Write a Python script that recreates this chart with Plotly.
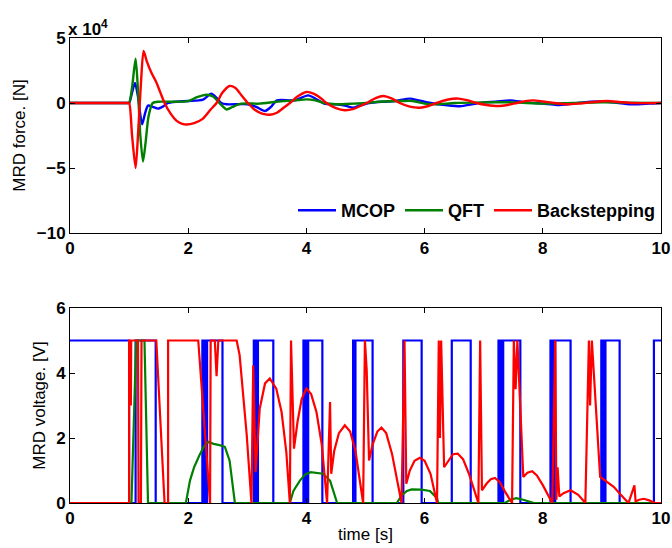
import plotly.graph_objects as go

# ---------------- data ----------------
# Top panel: MRD force, in units of 1e4 N
t_mcop_f = [0, 0.9, 0.97, 1.0, 1.05, 1.1, 1.15, 1.22, 1.27, 1.32, 1.4, 1.49, 1.58, 1.66, 1.8, 2.0, 2.25, 2.39, 2.48, 2.56,
            2.65, 3.0, 3.15, 3.30, 3.4, 3.5, 3.8, 4.03, 4.15, 4.3, 4.5, 4.65, 4.79, 4.9, 5.06, 5.3, 5.5, 5.75,
            5.9, 6.1, 6.35, 6.6, 6.8, 7.0, 7.2, 7.45, 7.7, 8.0, 8.24, 8.5, 8.8, 9.1, 9.5, 9.8, 10]
f_mcop = [0, 0, 0, 0, 0.8, 1.55, 0.5, -1.64, -0.8, -0.2, -0.3, -0.43, -0.25, 0, 0.1, 0.15, 0.26, 0.72, 0.4, 0,
          -0.1, -0.1, -0.3, -0.61, -0.3, 0.2, 0.2, 0.59, 0.35, -0.05, -0.1, -0.2, -0.36, -0.2, 0, 0.1, 0.15, 0.34,
          0.2, 0, -0.15, -0.25, -0.1, 0.05, 0.1, 0.2, 0.05, -0.05, -0.15, -0.05, 0.1, 0.1, -0.1, -0.05, 0]

t_qft_f = [0, 0.9, 0.97, 1.0, 1.05, 1.11, 1.15, 1.19, 1.235, 1.28, 1.33, 1.40, 1.5, 1.7, 2.0, 2.15, 2.31, 2.42, 2.55,
           2.65, 2.75, 2.9, 3.2, 3.5, 3.8, 4.0, 4.15, 4.3, 4.5, 4.8, 5.0, 5.3, 5.6, 5.8, 6.0, 6.2, 6.5, 7.0,
           7.5, 8.0, 8.5, 9.0, 10]
f_qft = [0, 0, 0, 0, 1.2, 3.4, 1.0, -2.5, -4.5, -3.0, -1.0, 0, 0.1, 0.1, 0.15, 0.45, 0.64, 0.5, -0.1,
         -0.5, -0.3, -0.05, -0.05, 0.1, 0.2, 0.28, 0.2, 0, -0.1, -0.05, 0, 0.12, 0.15, 0.15, -0.05, -0.1, 0, 0.05,
         0.05, -0.05, 0, 0.05, 0]

t_bs_f = [0, 0.9, 0.97, 1.0, 1.05, 1.11, 1.15, 1.2, 1.245, 1.3, 1.38, 1.46, 1.53, 1.6, 1.7, 1.8, 1.9, 1.97, 2.1, 2.25,
          2.38, 2.48, 2.58, 2.7, 2.8, 2.9, 3.01, 3.12, 3.25, 3.38, 3.5, 3.62, 3.72, 3.85, 4.0, 4.12, 4.25, 4.34,
          4.5, 4.65, 4.8, 4.95, 5.06, 5.18, 5.3, 5.44, 5.58, 5.75, 5.92, 6.05, 6.2, 6.38, 6.57, 6.72, 6.88,
          7.05, 7.25, 7.4, 7.56, 7.7, 7.84, 8.0, 8.2, 8.41, 8.6, 8.8, 9.09, 9.3, 9.5, 10]
f_bs = [0, 0, 0, 0, -2.5, -5.0, -2.5, 1.5, 4.0, 3.2, 2.3, 1.6, 0.8, 0, -0.8, -1.35, -1.6, -1.65, -1.55, -1.2,
        -0.5, 0, 0.8, 1.31, 1.15, 0.6, 0, -0.5, -0.82, -0.9, -0.75, -0.35, 0, 0.5, 0.85, 0.72, 0.35, 0,
        -0.4, -0.56, -0.45, -0.15, 0.1, 0.4, 0.54, 0.35, 0, -0.28, -0.36, -0.25, 0, 0.25, 0.34, 0.22, 0,
        -0.15, -0.23, -0.15, 0, 0.14, 0.2, 0.12, 0, -0.1, -0.05, 0.05, 0.15, 0.08, 0, 0]

# Bottom panel: MRD voltage [V]
t_mcop_v = [0, 1.0, 1.11, 1.45, 2.24, 2.26, 2.28, 2.30, 2.32, 2.58, 3.11, 3.13, 3.15, 3.16, 3.18, 3.44,
            3.95, 3.97, 3.99, 4.01, 4.03, 4.27, 4.79, 4.81, 4.83, 5.12, 5.64, 5.95, 6.46, 6.78, 7.25, 7.27,
            7.29, 7.31, 7.33, 7.62, 8.13, 8.15, 8.17, 8.19, 8.21, 8.47, 8.99, 9.01, 9.03, 9.05, 9.06, 9.30,
            9.88, 10]
v_mcop = [5, 0, 5, 0, 5, 0, 5, 0, 5, 0, 5, 0, 5, 0, 5, 0,
          5, 0, 5, 0, 5, 0, 5, 0, 5, 0, 5, 0, 5, 0, 5, 0,
          5, 0, 5, 0, 5, 0, 5, 0, 5, 0, 5, 0, 5, 0, 5, 0,
          5, 5]

t_qft_v = [0, 1.04, 1.12, 1.26, 1.32, 1.96, 2.03, 2.1, 2.19, 2.27, 2.34, 2.43, 2.53, 2.62, 2.70, 2.79,
           3.72, 3.78, 3.89, 3.98, 4.07, 4.18, 4.28, 4.40, 4.52, 5.53, 5.61, 5.7, 5.78, 5.95, 6.09, 6.21,
           6.23, 7.36, 7.45, 7.55, 7.67, 7.85, 10]
v_qft = [0, 0, 5, 5, 0, 0, 0.69, 1.1, 1.47, 1.75, 1.88, 1.82, 1.78, 1.73, 1.31, 0,
         0, 0.37, 0.69, 0.88, 0.95, 0.93, 0.9, 0.69, 0, 0, 0.23, 0.37, 0.42, 0.41, 0.37, 0.15,
         0, 0, 0.1, 0.15, 0.1, 0, 0]

t_bs_v = [0, 1.0, 1.0, 1.03, 1.03, 1.035, 1.15, 1.16, 1.20, 1.21, 1.46, 1.60, 1.66, 1.66, 2.17, 2.37,
          2.38, 2.45, 2.48, 2.51, 2.82, 2.87, 2.99, 3.07, 3.10, 3.14, 3.21, 3.30, 3.38, 3.49, 3.58, 3.66,
          3.72, 3.74, 3.79, 3.85, 3.92, 4.0, 4.08, 4.17, 4.26, 4.35, 4.40, 4.42, 4.47, 4.55, 4.65, 4.74,
          4.83, 4.96, 4.99, 5.02, 5.06, 5.12, 5.2, 5.27, 5.35, 5.45, 5.61, 5.66, 5.69, 5.75, 5.83, 5.92,
          6.0, 6.1, 6.21, 6.24, 6.26, 6.28, 6.33, 6.40, 6.48, 6.56, 6.65, 6.75, 6.91, 6.94, 6.97, 7.05,
          7.12, 7.19, 7.27, 7.36, 7.48, 7.51, 7.54, 7.57, 7.67, 7.74, 7.82, 7.9, 8.0, 8.16, 8.21, 8.23,
          8.25, 8.28, 8.35, 8.47, 8.6, 8.72, 8.78, 8.80, 8.83, 8.97, 9.03, 9.09, 9.2, 9.32, 9.45, 9.55,
          9.57, 9.63, 9.71, 9.8, 9.9, 10]
v_bs = [0, 0, 5, 5, 3.0, 5, 5, 0, 0, 5, 5, 0, 0, 5, 5, 0,
        5, 5, 3.9, 5, 5, 4.55, 2.1, 0, 4.24, 0.95, 2.9, 3.68, 3.83, 3.52, 2.8, 1.57,
        0, 5, 1.67, 2.5, 3.2, 3.52, 3.35, 2.8, 1.8, 0, 3.11, 0.9, 1.6, 2.15, 2.39, 2.2,
        1.6, 0, 5, 4.1, 1.31, 1.8, 2.2, 2.32, 2.15, 1.5, 0, 5, 0.59, 1.0, 1.3, 1.39,
        1.3, 0.9, 0, 5, 2.0, 5, 1.1, 1.3, 1.5, 1.52, 1.35, 0.9, 0, 5, 0.39, 0.6,
        0.73, 0.77, 0.65, 0.35, 0, 5, 3.5, 5, 0.8, 0.93, 0.98, 0.85, 0.55, 0, 5, 0.1,
        1.1, 0.2, 0.3, 0.39, 0.25, 0, 5, 3.0, 5, 0.8, 0.72, 0.66, 0.5, 0.25, 0, 0.54,
        0.05, 0.1, 0.13, 0.08, 0, 0]

x_ticks = [0, 2, 4, 6, 8, 10]
f_tickvals = [5e4, 0, -5e4, -1e5]
f_ticktext = ["5", "0", "\u22125", "\u221210"]
v_ticks = [0, 2, 4, 6]

BLUE, GREEN, RED = "#0000FF", "#008000", "#FF0000"
FONT = "Liberation Sans, Arial, Helvetica, sans-serif"

fig = go.Figure()
scale = 1e4
fig.add_trace(go.Scatter(x=t_mcop_f, y=[v * scale for v in f_mcop], mode="lines", name="MCOP",
                         line=dict(color=BLUE, width=2.4, shape="spline", smoothing=0.7), xaxis="x", yaxis="y"))
fig.add_trace(go.Scatter(x=t_qft_f, y=[v * scale for v in f_qft], mode="lines", name="QFT",
                         line=dict(color=GREEN, width=2.4, shape="spline", smoothing=0.7), xaxis="x", yaxis="y"))
fig.add_trace(go.Scatter(x=t_bs_f, y=[v * scale for v in f_bs], mode="lines", name="Backstepping",
                         line=dict(color=RED, width=2.4, shape="spline", smoothing=0.7), xaxis="x", yaxis="y"))

fig.add_trace(go.Scatter(x=t_mcop_v, y=v_mcop, mode="lines", showlegend=False,
                         line=dict(color=BLUE, width=2.2, shape="hv"), xaxis="x2", yaxis="y2"))
fig.add_trace(go.Scatter(x=t_qft_v, y=v_qft, mode="lines", showlegend=False,
                         line=dict(color=GREEN, width=2.2), xaxis="x2", yaxis="y2"))
fig.add_trace(go.Scatter(x=t_bs_v, y=v_bs, mode="lines", showlegend=False,
                         line=dict(color=RED, width=2.2), xaxis="x2", yaxis="y2"))

axis_common = dict(showline=True, linecolor="black", linewidth=1, mirror="ticks", ticks="inside",
                   ticklen=5, tickcolor="black", showgrid=False, zeroline=False, automargin=False,
                   tickfont=dict(family=FONT, size=17, color="black", weight="bold"))

# body margin is removed in the page (post_script), so the figure fills the window exactly
W, H = 672, 548
ML, MR, MT, MB = 70, 11, 38, 45
h_total = H - MT - MB
top_bot_px, bot_top_px, bot_px = 233, 308, 503
top_lo = (bot_px - top_bot_px) / h_total
bot_hi = (bot_px - bot_top_px) / h_total

TITLE_FONT = dict(family=FONT, size=17, color="black")

fig.update_layout(
    width=W, height=H,
    margin=dict(l=ML, r=MR, t=MT, b=MB),
    paper_bgcolor="white", plot_bgcolor="white",
    font=dict(family=FONT, color="black"),
    xaxis=dict(domain=[0, 1], range=[0, 10], tickvals=x_ticks, anchor="y", **axis_common),
    yaxis=dict(domain=[top_lo, 1], range=[-1e5, 5e4], tickvals=f_tickvals, ticktext=f_ticktext,
               anchor="x", title=dict(text="MRD force. [N]", font=TITLE_FONT, standoff=6),
               **axis_common),
    xaxis2=dict(domain=[0, 1], range=[0, 10], tickvals=x_ticks, anchor="y2",
                title=dict(text="time [s]", font=TITLE_FONT, standoff=0), **axis_common),
    yaxis2=dict(domain=[0, bot_hi], range=[0, 6], tickvals=v_ticks, anchor="x2",
                title=dict(text="MRD voltage. [V]", font=TITLE_FONT, standoff=6),
                **axis_common),
    legend=dict(orientation="h", x=1, xanchor="right", y=(bot_px - 229) / h_total, yanchor="bottom",
                bgcolor="rgba(0,0,0,0)", itemwidth=38, traceorder="normal", tracegroupgap=0,
                font=dict(family=FONT, size=18, color="black", weight="bold")),
    showlegend=True,
)

fig.add_annotation(text="x 10<sup>4</sup>", xref="paper", yref="paper", x=-0.007, y=1.0,
                   xanchor="left", yanchor="bottom", showarrow=False, yshift=-3,
                   font=dict(family=FONT, size=17, color="black", weight="bold"))

fig.write_html("out.html", config={"displayModeBar": False},
               post_script="document.body.style.margin='0';document.body.style.overflow='hidden';")
